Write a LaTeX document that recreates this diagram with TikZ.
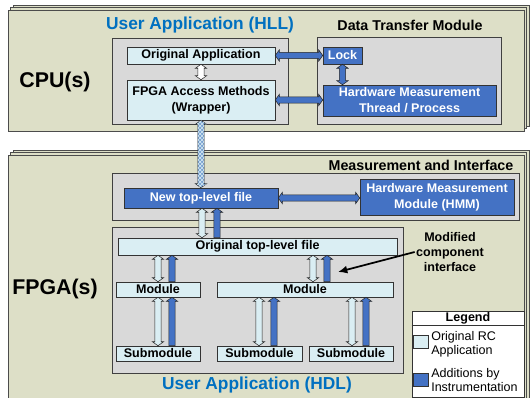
\documentclass[tikz,border=0pt]{standalone}
\usepackage{fontspec}
\setmainfont{Liberation Sans}
\usetikzlibrary{arrows.meta,calc,patterns}

\definecolor{panel}{RGB}{221,223,199}
\definecolor{frame}{RGB}{217,217,217}
\definecolor{pale}{RGB}{218,238,243}
\definecolor{instr}{RGB}{68,114,196}
\definecolor{titleblue}{RGB}{0,112,192}
\definecolor{hatch}{RGB}{120,160,210}

% block arrow sizes: shaft half width, head half width, head length
\newcommand{\arrw}{2.4pt}
\newcommand{\arrh}{4.2pt}
\newcommand{\arrl}{3pt}

\begin{document}
\begin{tikzpicture}[x=0.75pt,y=-0.75pt,
    sz/.style 2 args={minimum width={#1*0.75pt},minimum height={#2*0.75pt}},
    panelbox/.style={fill=panel,draw=black!70,line width=0.6pt},
    framebox/.style={fill=frame,draw=black!75,line width=0.6pt},
    orig/.style={draw=black!80,fill=pale,inner sep=0pt,align=center,
      font=\bfseries\fontsize{9.4}{12}\selectfont},
    added/.style={orig,fill=instr,text=white},
    sidelabel/.style={font=\bfseries\fontsize{16}{19}\selectfont},
    bluetitle/.style={text=titleblue,font=\bfseries\fontsize{13}{15}\selectfont},
    grouptitle/.style={font=\bfseries\fontsize{10.7}{13}\selectfont},
    note/.style={align=center,inner sep=1pt,
      font=\bfseries\fontsize{9.4}{11.25}\selectfont},
    legendtext/.style={anchor=west,align=left,inner sep=0pt,
      font=\fontsize{9.4}{10.5}\selectfont},
    swatch/.style={draw=black!80,inner sep=0pt,sz={15}{13}},
    blockarrow/.style={draw=black!85,line width=0.4pt},
    vboth/.style={blockarrow,to path={let \p1=(\tikztostart),\p2=(\tikztotarget) in
      (\x1,\y1) -- (\x1+\arrh,\y1-\arrl) -- (\x1+\arrw,\y1-\arrl)
      -- (\x1+\arrw,\y2+\arrl) -- (\x1+\arrh,\y2+\arrl) -- (\x1,\y2)
      -- (\x1-\arrh,\y2+\arrl) -- (\x1-\arrw,\y2+\arrl)
      -- (\x1-\arrw,\y1-\arrl) -- (\x1-\arrh,\y1-\arrl) -- cycle}},
    vup/.style={blockarrow,to path={let \p1=(\tikztostart),\p2=(\tikztotarget) in
      (\x1,\y1) -- (\x1+\arrh,\y1-\arrl) -- (\x1+\arrw,\y1-\arrl)
      -- (\x1+\arrw,\y2) -- (\x1-\arrw,\y2)
      -- (\x1-\arrw,\y1-\arrl) -- (\x1-\arrh,\y1-\arrl) -- cycle}},
    hboth/.style={blockarrow,to path={let \p1=(\tikztostart),\p2=(\tikztotarget) in
      (\x1,\y1) -- (\x1+\arrl,\y1+\arrh) -- (\x1+\arrl,\y1+\arrw)
      -- (\x2-\arrl,\y1+\arrw) -- (\x2-\arrl,\y1+\arrh) -- (\x2,\y1)
      -- (\x2-\arrl,\y1-\arrh) -- (\x2-\arrl,\y1-\arrw)
      -- (\x1+\arrl,\y1-\arrw) -- (\x1+\arrl,\y1-\arrh) -- cycle}},
    pointer/.style={-{Latex[length=7pt,width=6pt]},line width=1.3pt},
  ]

    \useasboundingbox (0,0) rectangle (530,398);

    % stacked panels
    \foreach \d in {5,2.5,0}
      \filldraw[panelbox] (8+\d,10-\d) rectangle (524+\d,131-\d);

    \foreach \d in {5,2.5,0}
      \filldraw[panelbox] (8+\d,155-\d) rectangle (524+\d,404-\d);

    \filldraw[framebox] (112,38) rectangle (288,124);
    \filldraw[framebox] (317,37) rectangle (501,124);
    \filldraw[framebox] (112,173) rectangle (519,220);
    \filldraw[framebox] (112,227) rectangle (403,373);

    \node[sidelabel] (cpu) at (55,82) {CPU(s)};
    \node[sidelabel] (fpga) at (55,289) {FPGA(s)};

    \node[bluetitle] (hll) at (200,25) {User Application (HLL)};
    \node[grouptitle] (dtm) at (410,25) {Data Transfer Module};
    \node[grouptitle] (mai) at (421,165) {Measurement and Interface};
    \node[bluetitle] (hdl) at (257,385) {User Application (HDL)};



    % CPU side
    \node[orig,sz={148}{17}] (origapp) at (201,55.5) {Original Application};
    \node[orig,sz={148}{40}] (wrapper) at (201,100) {FPGA Access Methods\\(Wrapper)};
    \node[added,sz={39}{17}] (lock) at (342.5,55.5) {Lock};
    \node[added,sz={173}{31}] (hwthread) at (409.5,100.5)
    {Hardware Measurement\\Thread / Process};

    \draw[vboth,fill=white] (origapp.south) to (wrapper.north);
    \draw[hboth,fill=instr] (origapp.east) to (lock.west);
    \draw[hboth,fill=instr] (wrapper.east) to (hwthread.west);
    \draw[vboth,fill=instr] (lock.south) to (hwthread.north);



    % FPGA side
    \node[added,sz={154}{20}] (newtop) at (201,198) {New top-level file};
    \node[added,sz={154}{36}] (hmm) at (437,197)
    {Hardware Measurement\\Module (HMM)};

    \node[orig,sz={279}{17}] (origtop) at (257.5,246.5) {Original top-level file};
    \node[orig,sz={84}{15}] (modl) at (158,289.5) {Module};
    \node[orig,sz={176}{15}] (modr) at (305,289.5) {Module};
    \node[orig,sz={84}{15}] (sub1) at (158,353.5) {Submodule};
    \node[orig,sz={85}{15}] (sub2) at (259.5,353.5) {Submodule};
    \node[orig,sz={84}{15}] (sub3) at (351,353.5) {Submodule};

    \draw[vboth,fill=hatch,postaction={pattern=crosshatch,pattern color=pale}]
      (wrapper.south) to (newtop.north);
    \draw[hboth,fill=instr] (newtop.east) to (hmm.west);

    \draw[vboth,fill=pale] (newtop.south -| 202,0) to (origtop.north);
    \draw[vup,fill=instr] (newtop.south -| 217,0) to (origtop.north);

    \draw[vboth,fill=pale] (origtop.south -| 158,0) to (modl.north);
    \draw[vup,fill=instr] (origtop.south -| 172,0) to (modl.north);
    \draw[vboth,fill=pale] (origtop.south -| 313,0) to (modr.north);
    \draw[vup,fill=instr] (origtop.south -| 327,0) to (modr.north);

    \draw[vboth,fill=pale] (modl.south -| 158,0) to (sub1.north);
    \draw[vup,fill=instr] (modl.south -| 172,0) to (sub1.north);
    \draw[vboth,fill=pale] (modr.south -| 259,0) to (sub2.north);
    \draw[vup,fill=instr] (modr.south -| 274,0) to (sub2.north);
    \draw[vboth,fill=pale] (modr.south -| 352,0) to (sub3.north);
    \draw[vup,fill=instr] (modr.south -| 366,0) to (sub3.north);

    \node[note] (modnote) at (450,252) {Modified\\component\\interface};
    \coordinate (modtip) at (338,272);
    \draw[pointer] (modnote.west) -- (modtip);



    % legend
    \node[draw=black!80,fill=white,sz={112}{86}] (legend) at (468,354) {};
    \draw[black!80] (legend.west |- 0,325) -- (legend.east |- 0,325);
    \node[font=\bfseries\fontsize{9.4}{11}\selectfont] (legtitle) at (468,318) {Legend};
    \node[swatch,fill=pale] (sw1) at (420.5,341.5) {};
    \node[swatch,fill=instr] (sw2) at (420.5,380) {};
    \node[legendtext] (leg1) at (431,344) {Original RC\\Application};
    \node[legendtext] (leg2) at (431,380) {Additions by\\Instrumentation};

  \end{tikzpicture}
\end{document}
